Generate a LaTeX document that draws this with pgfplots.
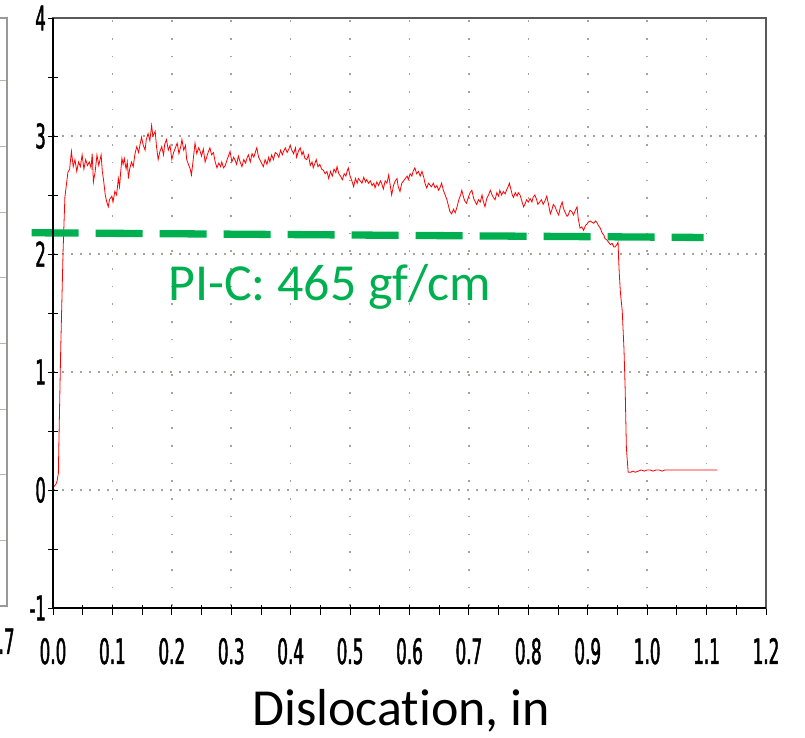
\documentclass[border=0pt]{standalone}
\usepackage{fontspec}
\usepackage{pgfplots}
\pgfplotsset{compat=1.18}
\setmainfont{Carlito}[Ligatures={NoCommon}]
\newfontfamily\tickfont[FakeStretch=0.48, FakeBold=1.3]{DejaVu Sans}
\definecolor{pigreen}{HTML}{00B050}
\definecolor{gridgray}{HTML}{A4A49C}
\definecolor{tickgray}{HTML}{C0B4A8}

\begin{document}
\begin{tikzpicture}[x=1pt,y=1pt]
\useasboundingbox (0,0) rectangle (805,738);
% fragment of the neighbouring chart on the left
\begin{axis}[scale only axis, at={(7pt,132pt)}, anchor=south east,
  width=206pt, height=588pt, xmin=0, xmax=0.72, ymin=0, ymax=8.96,
  xtick={0.7}, xticklabels={0.7}, ytick={1,2,3,4,5,6,7,8}, yticklabels={},
  xtick pos=bottom, ytick pos=right, tick align=inside, major tick length=7pt,
  ytick style={tickgray, line width=1pt}, xtick style={draw=none},
  axis line style={draw=gray!80, line width=1.6pt},
  xticklabel style={font=\tickfont\fontsize{35}{35}\selectfont, anchor=base, inner sep=0pt, yshift=-48pt},
]
\end{axis}
\begin{axis}[scale only axis, at={(53pt,130pt)}, anchor=south west,
  width=713pt, height=590pt, xmin=0, xmax=1.2, ymin=-1, ymax=4, clip=false,
  xtick={0,0.1,0.2,0.3,0.4,0.5,0.6,0.7,0.8,0.9,1.0,1.1,1.2},
  xticklabels={0.0,0.1,0.2,0.3,0.4,0.5,0.6,0.7,0.8,0.9,1.0,1.1,1.2},
  ytick={-1,0,1,2,3,4}, yticklabels={-1,0,1,2,3,4},
  minor x tick num=1, minor y tick num=1,
  xtick pos=bottom, ytick pos=left, tick align=center,
  major tick length=10pt, minor tick length=10pt,
  tick style={black, line width=0.9pt},
  xtick style={yshift=-2pt},
  grid=major,
  x grid style={gridgray, line width=1.6pt, dash pattern=on 1.6pt off 16.1pt, yshift=2pt},
  y grid style={gridgray, line width=1.6pt, dash pattern=on 1.5pt off 7.5pt},
  axis line style={draw=gray!70!black, line width=1.2pt},
  xticklabel style={font=\tickfont\fontsize{35}{35}\selectfont, anchor=base, inner sep=0pt, yshift=-51pt},
  yticklabel style={font=\tickfont\fontsize{34}{34}\selectfont, anchor=east, inner sep=0pt, xshift=-2pt},
]
\addplot[red, line width=0.8pt] coordinates {
(0.000,0.02) (0.005,0.05) (0.007,0.08) (0.009,0.14) (0.010,0.42) (0.013,1.2) (0.017,2.03) (0.020,2.48)
(0.025,2.69) (0.028,2.72) (0.031,2.87) (0.034,2.74) (0.037,2.80) (0.040,2.70) (0.043,2.78) (0.046,2.74)
(0.049,2.84) (0.052,2.72) (0.055,2.80) (0.058,2.75) (0.061,2.78) (0.064,2.73) (0.066,2.85) (0.068,2.61)
(0.071,2.70) (0.074,2.84) (0.077,2.75) (0.081,2.84) (0.083,2.70) (0.085,2.63) (0.088,2.50) (0.090,2.45)
(0.093,2.40) (0.095,2.46) (0.099,2.49) (0.101,2.44) (0.104,2.53) (0.107,2.50) (0.110,2.64) (0.112,2.57)
(0.114,2.70) (0.116,2.81) (0.118,2.76) (0.120,2.81) (0.123,2.72) (0.125,2.78) (0.127,2.64) (0.129,2.72)
(0.132,2.78) (0.135,2.74) (0.138,2.85) (0.141,2.91) (0.144,2.86) (0.147,2.94) (0.149,2.99) (0.152,2.92)
(0.155,2.88) (0.157,2.97) (0.160,3.02) (0.163,2.96) (0.166,3.09) (0.168,3.00) (0.172,3.04) (0.174,2.92)
(0.177,2.80) (0.180,2.87) (0.183,2.91) (0.186,2.84) (0.188,2.93) (0.191,2.97) (0.194,2.88) (0.197,2.92)
(0.200,2.80) (0.203,2.86) (0.206,2.90) (0.209,2.94) (0.212,2.85) (0.215,2.91) (0.217,2.97) (0.220,2.88)
(0.223,2.92) (0.225,2.80) (0.228,2.76) (0.231,2.72) (0.233,2.67) (0.236,2.80) (0.239,2.94) (0.242,2.85)
(0.245,2.90) (0.247,2.88) (0.250,2.83) (0.253,2.89) (0.256,2.78) (0.258,2.81) (0.261,2.86) (0.264,2.90)
(0.267,2.84) (0.270,2.86) (0.273,2.78) (0.276,2.73) (0.279,2.77) (0.282,2.74) (0.284,2.78) (0.287,2.73)
(0.290,2.75) (0.293,2.80) (0.296,2.84) (0.298,2.87) (0.301,2.78) (0.304,2.82) (0.306,2.80) (0.309,2.76)
(0.312,2.83) (0.315,2.78) (0.318,2.74) (0.321,2.80) (0.324,2.77) (0.327,2.82) (0.329,2.84) (0.332,2.78)
(0.335,2.85) (0.338,2.82) (0.341,2.87) (0.343,2.90) (0.346,2.82) (0.349,2.79) (0.352,2.76) (0.354,2.74)
(0.357,2.80) (0.360,2.76) (0.363,2.82) (0.365,2.78) (0.368,2.84) (0.371,2.80) (0.374,2.86) (0.377,2.85)
(0.380,2.82) (0.383,2.88) (0.386,2.84) (0.388,2.87) (0.391,2.90) (0.394,2.86) (0.397,2.89) (0.399,2.92)
(0.402,2.88) (0.405,2.85) (0.408,2.90) (0.410,2.82) (0.413,2.87) (0.416,2.90) (0.419,2.84) (0.421,2.87)
(0.424,2.81) (0.427,2.80) (0.430,2.84) (0.433,2.75) (0.436,2.78) (0.438,2.73) (0.441,2.77) (0.443,2.80)
(0.446,2.74) (0.449,2.76) (0.452,2.72) (0.455,2.71) (0.458,2.68) (0.461,2.70) (0.464,2.64) (0.467,2.70)
(0.470,2.66) (0.473,2.72) (0.476,2.69) (0.478,2.74) (0.481,2.68) (0.484,2.66) (0.487,2.63) (0.490,2.68)
(0.493,2.66) (0.495,2.70) (0.497,2.73) (0.500,2.66) (0.503,2.62) (0.506,2.57) (0.509,2.64) (0.512,2.60)
(0.514,2.64) (0.517,2.62) (0.520,2.60) (0.523,2.65) (0.526,2.61) (0.528,2.63) (0.531,2.60) (0.534,2.62)
(0.537,2.58) (0.540,2.60) (0.542,2.56) (0.545,2.61) (0.548,2.58) (0.551,2.62) (0.553,2.60) (0.556,2.55)
(0.559,2.62) (0.562,2.60) (0.565,2.67) (0.567,2.60) (0.570,2.50) (0.573,2.58) (0.576,2.62) (0.579,2.64)
(0.581,2.57) (0.584,2.53) (0.587,2.60) (0.590,2.62) (0.593,2.64) (0.596,2.66) (0.598,2.63) (0.601,2.68)
(0.604,2.66) (0.606,2.70) (0.609,2.73) (0.612,2.68) (0.615,2.70) (0.618,2.66) (0.621,2.70) (0.624,2.65)
(0.626,2.60) (0.629,2.56) (0.632,2.60) (0.635,2.58) (0.637,2.57) (0.640,2.60) (0.643,2.56) (0.646,2.58)
(0.649,2.54) (0.652,2.57) (0.654,2.60) (0.657,2.54) (0.660,2.50) (0.663,2.46) (0.666,2.40) (0.668,2.36)
(0.671,2.34) (0.674,2.38) (0.677,2.35) (0.680,2.40) (0.683,2.46) (0.686,2.50) (0.688,2.54) (0.691,2.48)
(0.693,2.45) (0.696,2.43) (0.699,2.48) (0.702,2.52) (0.705,2.54) (0.708,2.47) (0.710,2.45) (0.713,2.42)
(0.716,2.46) (0.719,2.44) (0.722,2.50) (0.724,2.45) (0.727,2.40) (0.730,2.47) (0.733,2.50) (0.736,2.54)
(0.739,2.50) (0.741,2.48) (0.744,2.46) (0.747,2.52) (0.750,2.49) (0.752,2.54) (0.755,2.50) (0.758,2.53)
(0.761,2.51) (0.764,2.55) (0.766,2.57) (0.768,2.60) (0.771,2.54) (0.773,2.50) (0.775,2.48) (0.778,2.52)
(0.781,2.49) (0.783,2.52) (0.786,2.50) (0.789,2.45) (0.792,2.40) (0.795,2.43) (0.797,2.46) (0.800,2.44)
(0.803,2.47) (0.806,2.44) (0.808,2.48) (0.811,2.50) (0.814,2.46) (0.816,2.42) (0.819,2.44) (0.822,2.46)
(0.825,2.42) (0.828,2.45) (0.831,2.49) (0.834,2.42) (0.837,2.34) (0.840,2.38) (0.842,2.42) (0.845,2.40)
(0.848,2.36) (0.851,2.33) (0.854,2.40) (0.857,2.44) (0.859,2.39) (0.862,2.35) (0.865,2.32) (0.867,2.33)
(0.870,2.37) (0.873,2.36) (0.876,2.33) (0.879,2.37) (0.882,2.40) (0.884,2.30) (0.887,2.22) (0.890,2.23)
(0.893,2.20) (0.896,2.24) (0.898,2.25) (0.901,2.27) (0.904,2.28) (0.907,2.27) (0.910,2.26) (0.913,2.28)
(0.915,2.27) (0.918,2.24) (0.921,2.22) (0.924,2.18) (0.927,2.16) (0.929,2.13) (0.932,2.12) (0.935,2.10)
(0.938,2.08) (0.941,2.09) (0.944,2.06) (0.946,2.06) (0.949,2.08) (0.951,2.10) (0.952,1.95) (0.953,1.84)
(0.955,1.67) (0.958,1.52) (0.961,1.19) (0.963,0.85) (0.965,0.36) (0.968,0.15) (0.972,0.15) (0.976,0.16)
(0.980,0.15) (0.985,0.16) (0.990,0.17) (0.995,0.16) (1.000,0.17) (1.005,0.17) (1.010,0.16) (1.015,0.17)
(1.020,0.17) (1.025,0.16) (1.030,0.17) (1.035,0.17) (1.040,0.17) (1.050,0.17) (1.060,0.17) (1.070,0.17)
(1.080,0.17) (1.090,0.17) (1.100,0.17) (1.118,0.17)
};
\addplot[pigreen, line width=7.3pt, dash pattern=on 47pt off 17pt] coordinates {(-0.036,2.18) (1.095,2.14)};
\node[anchor=base west, text=pigreen, font=\fontsize{52}{52}\selectfont, inner sep=0pt] at (axis cs:0.1936,1.61) {PI-C: 465 gf/cm};
\draw[black, line width=1.3pt] (rel axis cs:0,1) -- (rel axis cs:0,0) -- (rel axis cs:1,0);
\end{axis}
\node[anchor=base, font=\fontsize{52}{52}\selectfont, inner sep=0pt] at (401,12) {Dislocation, in};
\end{tikzpicture}
\end{document}
